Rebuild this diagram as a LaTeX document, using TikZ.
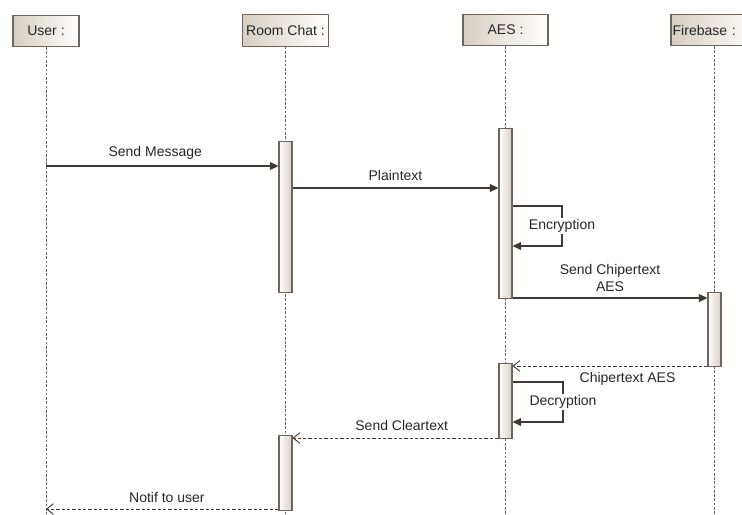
\documentclass[tikz,border=0pt]{standalone}
\usepackage{fontspec}
\setmainfont{Liberation Sans}
\usetikzlibrary{arrows.meta, positioning, calc}

\definecolor{boxline}{HTML}{6E665E}
\definecolor{boxfill}{HTML}{D6CEC2}
\definecolor{msgline}{HTML}{3F3A36}

\begin{document}
\begin{tikzpicture}[
    x=0.75pt, y=-0.75pt,
    every node/.style={font=\fontsize{10.5}{12.5}\selectfont, text=black!85},
    head/.style={rectangle, draw=boxline, thick, left color=boxfill, right color=white, minimum height=23.5pt, inner sep=2pt},
    bar/.style={rectangle, draw=boxline, thick, left color=white, right color=boxfill, minimum width=9.75pt, inner sep=0pt, anchor=north},
    lifeline/.style={draw=gray!80!black, line width=0.6pt, dash pattern=on 2pt off 1.2pt},
    call/.style={draw=msgline, line width=0.8pt, -{Triangle[length=6.5pt, width=6pt]}},
    reply/.style={draw=msgline, line width=0.7pt, dash pattern=on 2.5pt off 1.5pt, -{Straight Barb[length=5pt, width=8pt]}},
    msglabel/.style={fill=white, inner sep=1pt}
]

\useasboundingbox (0,0) rectangle (742,514);
\clip (0,0) rectangle (742,514);

% Lifeline heads
\node[head, minimum width=49.5pt] (user) at (46,31) {User :};
\node[head, minimum width=64.5pt] (room) at (285.5,30.5) {Room Chat :};
\node[head, minimum width=63.75pt] (aes) at (505.5,30) {AES :};
\node[head, minimum width=64.5pt, text width=62pt, align=left, inner sep=1pt] (fire) at (714,30) {Firebase :};

% Lifelines
\coordinate (bottom) at (0,514);
\draw[lifeline] (user.south) -- (user.south |- bottom);
\draw[lifeline] (room.south) -- (room.south |- bottom);
\draw[lifeline] (aes.south) -- (aes.south |- bottom);
\draw[lifeline] (fire.south) -- (fire.south |- bottom);

% Activation bars
\node[bar, minimum height=113.25pt] (roombar1) at (285.5,141) {};
\node[bar, minimum height=127.5pt] (aesbar1) at (505.5,128) {};
\node[bar, minimum height=55.5pt] (firebar) at (714.5,292) {};
\node[bar, minimum height=56.25pt] (aesbar2) at (505.5,363) {};
\node[bar, minimum height=56.25pt] (roombar2) at (285.5,435) {};

% Message levels
\coordinate (ysend) at (0,166);
\coordinate (yplain) at (0,188);
\coordinate (yenc1) at (562,206);
\coordinate (yenc2) at (0,246);
\coordinate (ycipher) at (0,298);
\coordinate (yback) at (0,366);
\coordinate (ydec1) at (563,382);
\coordinate (ydec2) at (0,422);
\coordinate (yclear) at (0,438);
\coordinate (ynotif) at (0,509);

% Calls
\draw[call] (user.south |- ysend) -- node[above=1pt, pos=0.47] {Send Message} (roombar1.west |- ysend);
\draw[call] (roombar1.east |- yplain) -- node[above=2pt] {Plaintext} (aesbar1.west |- yplain);
\draw[call] (aesbar1.east |- yenc1) -- (yenc1) |- node[msglabel, pos=0.25] {Encryption} (aesbar1.east |- yenc2);
\draw[call] (aesbar1.east |- ycipher) -- node[above=1pt, align=center] {Send Chipertext\\AES} (firebar.west |- ycipher);
\draw[call] (aesbar2.east |- ydec1) -- (ydec1) |- node[msglabel, pos=0.25] {Decryption} (aesbar2.east |- ydec2);

% Replies
\draw[reply] (firebar.west |- yback) -- node[below=1pt, pos=0.41] {Chipertext AES} (aesbar2.east |- yback);
\draw[reply] (aesbar2.west |- yclear) -- node[above=2pt, pos=0.47] {Send Cleartext} (roombar2.east |- yclear);
\draw[reply] (roombar2.west |- ynotif) -- node[above=1pt, pos=0.48] {Notif to user} (user.south |- ynotif);

\end{tikzpicture}
\end{document}
